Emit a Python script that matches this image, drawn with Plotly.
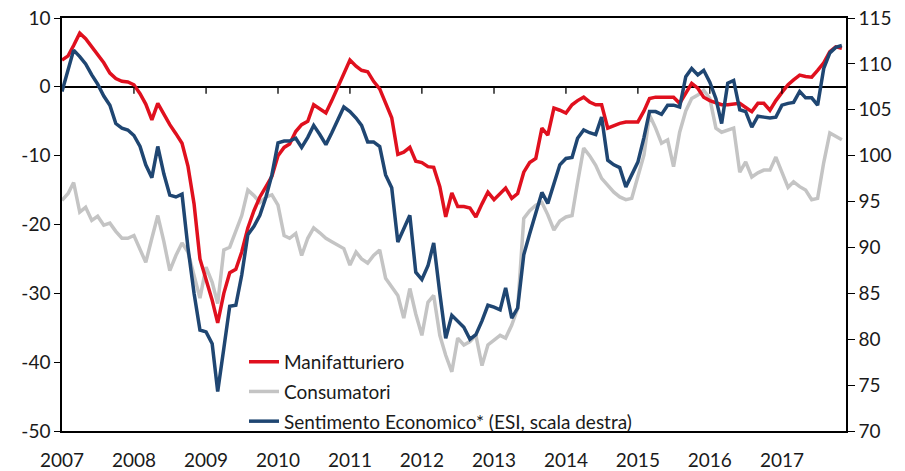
import plotly.graph_objects as go
import pandas as pd

# Monthly data, Jan 2007 .. Nov 2017
manifatturiero = [
    3.9, 4.5, 6.0, 7.8, 7.0, 5.8, 4.6, 3.5, 2.0, 1.2, 0.8, 0.7,
    0.3, -1.0, -2.5, -4.8, -2.4, -4.0, -5.5, -6.8, -8.2, -11.5, -17.0, -25.0,
    -28.0, -31.0, -34.3, -30.0, -27.0, -26.5, -24.0, -20.5, -18.0, -16.0, -14.5, -13.0,
    -10.0, -8.8, -8.3, -6.5, -5.5, -5.0, -2.6, -3.2, -3.8, -2.0, 0.0, 2.0,
    3.9, 3.0, 2.4, 2.2, 0.8, -0.3, -2.5, -4.5, -9.8, -9.5, -8.8, -10.8,
    -11.0, -11.6, -11.7, -14.5, -18.9, -15.4, -17.4, -17.4, -17.6, -18.9, -17.0, -15.3,
    -16.4, -15.5, -14.7, -16.2, -15.5, -12.4, -11.0, -10.4, -6.0, -7.0, -3.1, -3.4,
    -3.8, -2.6, -2.0, -1.5, -2.2, -2.6, -2.6, -6.0, -5.6, -5.3, -5.1, -5.1,
    -5.1, -3.5, -1.7, -1.5, -1.5, -1.5, -1.5, -2.4, -1.0, 0.5, -0.2, -1.5,
    -2.0, -2.3, -2.6, -2.6, -2.5, -2.4, -3.0, -3.6, -2.4, -2.4, -3.4, -2.0,
    -0.8, 0.3, 1.0, 1.7, 1.5, 1.4, 2.4, 3.5, 5.1, 5.8, 5.6,
]

consumatori = [
    -16.5, -15.5, -13.9, -18.2, -17.5, -19.4, -18.8, -20.1, -19.8, -21.0, -22.0, -22.0,
    -21.6, -23.5, -25.5, -22.0, -18.7, -22.5, -26.7, -24.5, -22.7, -24.0, -27.5, -30.7,
    -26.2, -28.4, -31.5, -23.7, -23.3, -21.0, -18.7, -15.0, -15.8, -16.8, -16.0, -15.7,
    -17.2, -21.6, -22.0, -21.3, -24.5, -22.0, -20.5, -21.2, -22.0, -22.5, -23.0, -23.5,
    -25.9, -24.0, -25.0, -25.6, -24.5, -23.7, -27.8, -29.0, -30.3, -33.6, -29.3, -33.0,
    -36.1, -31.3, -30.3, -36.1, -39.0, -41.4, -36.5, -37.5, -37.0, -36.1, -40.5, -37.5,
    -36.8, -36.1, -36.5, -34.6, -32.2, -19.1, -18.0, -17.2, -16.8, -18.6, -20.8, -19.5,
    -18.9, -18.7, -13.9, -8.9, -10.0, -11.4, -13.3, -14.3, -15.3, -16.0, -16.4, -16.2,
    -13.0, -9.9, -4.1, -6.0, -8.2, -7.7, -11.6, -6.6, -3.5, -1.7, -1.2, -0.5,
    -1.7, -6.0, -6.6, -6.3, -6.0, -12.4, -10.9, -13.1, -12.5, -12.1, -12.1, -10.2,
    -12.5, -14.6, -13.8, -14.5, -15.0, -16.4, -16.2, -11.0, -6.7, -7.2, -7.7,
]

esi = [
    107.0, 109.5, 111.5, 110.8, 110.0, 108.8, 107.8, 106.5, 105.5, 103.5, 103.0, 102.8,
    102.2, 101.0, 99.0, 97.6, 101.0, 98.0, 95.7, 95.5, 95.8, 90.0, 85.0, 81.0,
    80.8, 79.5, 74.3, 79.0, 83.6, 83.7, 87.0, 91.4, 92.3, 93.5, 95.5, 97.9,
    101.4, 101.6, 101.6, 101.9, 100.9, 102.0, 103.3, 102.3, 101.2, 102.5, 104.0, 105.3,
    104.8, 104.1, 103.3, 101.5, 101.5, 101.0, 97.9, 96.5, 90.6, 92.0, 93.5, 87.3,
    86.5, 88.0, 90.5, 85.0, 80.1, 82.6, 82.0, 81.3, 80.0, 80.5, 82.0, 83.7,
    83.5, 83.2, 85.6, 82.3, 83.4, 89.2, 91.5, 93.9, 96.0, 94.8, 97.0, 99.0,
    99.7, 99.8, 101.9, 102.8, 102.5, 102.3, 104.2, 99.5, 99.0, 98.7, 96.6, 98.0,
    99.3, 102.0, 104.8, 104.8, 104.5, 105.5, 105.5, 105.3, 108.6, 109.5, 108.8, 109.3,
    108.0, 106.2, 103.5, 107.9, 108.2, 105.0, 104.8, 103.1, 104.3, 104.2, 104.1, 104.2,
    105.5, 105.7, 105.8, 107.0, 106.3, 106.3, 105.5, 109.5, 111.2, 111.8, 112.0,
]

months = pd.date_range("2007-01-01", periods=len(esi), freq="MS")

years = list(range(2007, 2018))
year_labels = [str(y) for y in years]
left_ticks = [-50, -40, -30, -20, -10, 0, 10]
left_labels = ["-50", "-40", "-30", "-20", "-10", "0", "10"]
right_ticks = [70, 75, 80, 85, 90, 95, 100, 105, 110, 115]
right_labels = [str(v) for v in right_ticks]

RED = "#E0101E"
GREY = "#C4C4C4"
BLUE = "#1F4672"
FONT = "Lato, 'Open Sans', sans-serif"
TXT = "#1a1a1a"

fig = go.Figure()
fig.add_trace(go.Scatter(x=months, y=consumatori, name="Consumatori", mode="lines",
                         line=dict(color=GREY, width=3.5), legendrank=2,
                         legendgroup="b", yaxis="y"))
fig.add_trace(go.Scatter(x=months, y=manifatturiero, name="Manifatturiero", mode="lines",
                         line=dict(color=RED, width=3.5), legendrank=1,
                         legendgroup="a", yaxis="y"))
fig.add_trace(go.Scatter(x=months, y=esi, name="Sentimento Economico* (ESI, scala destra)",
                         mode="lines", line=dict(color=BLUE, width=3.5), legendrank=3,
                         legendgroup="c", yaxis="y2"))

# small tick marks on the zero line at each year start
shapes = []
for y in years[1:]:
    shapes.append(dict(type="line", xref="x", yref="y", x0=f"{y}-01-01", x1=f"{y}-01-01",
                       y0=0, y1=-1.0, line=dict(color="black", width=1.3)))

fig.update_layout(
    width=905, height=471, autosize=False,
    margin=dict(l=62, r=59, t=18, b=40, autoexpand=False),
    paper_bgcolor="white", plot_bgcolor="white",
    font=dict(family=FONT, size=19, color=TXT),
    shapes=shapes,
    showlegend=True,
    legend=dict(x=(244 - 62) / 784, y=-0.024, xanchor="left", yanchor="bottom",
                bgcolor="rgba(255,255,255,0)", borderwidth=0,
                traceorder="grouped", tracegroupgap=2,
                font=dict(family=FONT, size=19, color=TXT),
                itemwidth=30),
    xaxis=dict(type="date", range=["2007-01-01", "2017-11-22"],
               tickvals=[f"{y}-01-01" for y in years], ticktext=year_labels,
               showline=True, mirror=True, linecolor="black", linewidth=1.5,
               ticks="outside", ticklen=11, tickcolor="rgba(0,0,0,0)",
               showgrid=False, zeroline=False, automargin=False,
               tickfont=dict(family=FONT, size=19, color=TXT)),
    yaxis=dict(range=[-50, 10], tickvals=left_ticks, ticktext=left_labels,
               showline=True, linecolor="black", linewidth=1.5,
               ticks="outside", ticklen=6, tickcolor="black", automargin=False,
               showgrid=False, zeroline=True, zerolinecolor="black", zerolinewidth=1.5,
               tickfont=dict(family=FONT, size=19, color=TXT)),
    yaxis2=dict(range=[70, 115], tickvals=right_ticks, ticktext=right_labels,
                overlaying="y", side="right", automargin=False,
                showline=True, linecolor="black", linewidth=1.5,
                ticks="outside", ticklen=7, tickcolor="black",
                showgrid=False, zeroline=False,
                tickfont=dict(family=FONT, size=19, color=TXT)),
)

fig.write_html("out.html", config={"displayModeBar": False},
               post_script="document.body.style.margin='0';document.body.style.overflow='hidden';")
